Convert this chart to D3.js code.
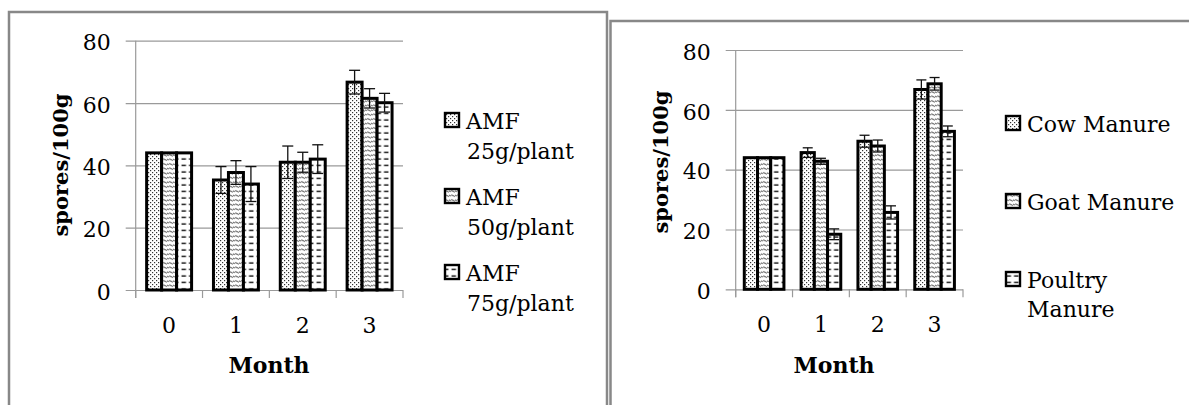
<!DOCTYPE html>
<html>
<head>
<meta charset="utf-8">
<script src="https://cdn.jsdelivr.net/npm/d3@7"></script>
<style>
  html, body { margin: 0; padding: 0; background: #fff; }
  svg { display: block; }
  text { font-family: "DejaVu Serif", "Liberation Serif", serif; fill: #000; }
</style>
</head>
<body>
<script>
// Chart data ------------------------------------------
const months = ['0', '1', '2', '3'];
const yTicks = [0, 20, 40, 60, 80];

// left chart: AMF doses
const amfLabels = [['AMF', '25g/plant'], ['AMF', '50g/plant'], ['AMF', '75g/plant']];
const amf25 = [44, 35.3, 41.0, 66.7];
const amf50 = [44, 37.7, 41.0, 61.5];
const amf75 = [44, 34.0, 42.0, 60.1];
const amf25Err = [0, 4.3, 5.2, 3.8];
const amf50Err = [0, 3.8, 3.2, 3.1];
const amf75Err = [0, 5.6, 4.6, 3.0];

// right chart: manures
const manureLabels = [['Cow Manure'], ['Goat Manure'], ['Poultry', 'Manure']];
const cow = [44, 45.7, 49.5, 66.8];
const goat = [44, 42.8, 47.9, 68.7];
const poultry = [44, 18.4, 25.7, 52.8];
const cowErr = [0, 1.6, 2.0, 3.2];
const goatErr = [0, 1.0, 2.0, 2.1];
const poultryErr = [0, 1.8, 2.2, 1.8];

const svg = d3.select('body').append('svg')
  .attr('width', 1189)
  .attr('height', 405);

// Fill patterns ---------------------------------------
const defs = svg.append('defs');

const dots = defs.append('pattern').attr('id', 'pat0')
  .attr('patternUnits', 'userSpaceOnUse').attr('width', 4).attr('height', 4);
dots.append('rect').attr('width', 4).attr('height', 4).attr('fill', '#fff');
dots.append('rect').attr('x', 0).attr('y', 0).attr('width', 1.2).attr('height', 1.2).attr('fill', '#333');
dots.append('rect').attr('x', 2).attr('y', 2).attr('width', 1.2).attr('height', 1.2).attr('fill', '#333');

const wave = defs.append('pattern').attr('id', 'pat1')
  .attr('patternUnits', 'userSpaceOnUse').attr('width', 6).attr('height', 4.5);
wave.append('rect').attr('width', 6).attr('height', 4.5).attr('fill', '#fff');
wave.append('path').attr('d', 'M0 3 Q1.5 0.5 3 2.2 T6 1.6')
  .attr('fill', 'none').attr('stroke', '#222').attr('stroke-width', 0.9);

const dash = defs.append('pattern').attr('id', 'pat2')
  .attr('patternUnits', 'userSpaceOnUse').attr('width', 7.5).attr('height', 6.5);
dash.append('rect').attr('width', 7.5).attr('height', 6.5).attr('fill', '#fff');
dash.append('line').attr('x1', 1.5).attr('x2', 6).attr('y1', 3).attr('y2', 3)
  .attr('stroke', '#111').attr('stroke-width', 1.4);

// Panel frames ----------------------------------------
const frame = svg.append('g').attr('fill', 'none').attr('stroke', '#888').attr('stroke-width', 2.5);
frame.append('path').attr('d', 'M9 405 V12 H607 V405');
frame.append('path').attr('d', 'M610.5 405 V21 H1189');

// One grouped bar chart with error bars ---------------
const drawChart = (cfg) => {
  const g = svg.append('g');

  const x = d3.scaleBand().domain(months).range([cfg.left, cfg.right]).padding(0);
  const xSub = d3.scaleBand().domain(d3.range(cfg.series.length))
    .range([0, x.bandwidth()]).paddingInner(0).paddingOuter(cfg.outer);
  const y = d3.scaleLinear().domain([0, 80]).range([cfg.bottom, cfg.top]);

  // gridlines + y labels
  const yAxis = g.append('g')
    .attr('transform', `translate(${cfg.left},0)`)
    .call(d3.axisLeft(y).tickValues(yTicks).tickSize(-(cfg.right - cfg.left)).tickPadding(25));
  yAxis.select('.domain').remove();
  yAxis.selectAll('line').attr('x1', -10).attr('stroke', '#9a9a9a').attr('stroke-width', 1.2);
  yAxis.selectAll('text').attr('font-size', 22).attr('dy', '0.42em')
    .style('font-family', '"DejaVu Serif", serif').attr('fill', '#000');

  // axis lines
  g.append('line').attr('x1', cfg.left).attr('x2', cfg.left)
    .attr('y1', y(80)).attr('y2', cfg.bottom + 8)
    .attr('stroke', '#9a9a9a').attr('stroke-width', 1.2);
  g.selectAll('.cat-tick').data(months.map(m => x(m)).concat([cfg.right]))
    .enter().append('line')
    .attr('x1', d => d).attr('x2', d => d)
    .attr('y1', cfg.bottom).attr('y2', cfg.bottom + 8)
    .attr('stroke', '#9a9a9a').attr('stroke-width', 1.2);

  // x labels
  const xAxis = g.append('g')
    .attr('transform', `translate(0,${cfg.bottom})`)
    .call(d3.axisBottom(x).tickSize(0));
  xAxis.select('.domain').remove();
  xAxis.selectAll('text').attr('font-size', 22).attr('y', 43).attr('dy', null)
    .style('font-family', '"DejaVu Serif", serif').attr('fill', '#000');

  // bars
  cfg.series.forEach((vals, si) => {
    const bars = g.append('g');
    bars.selectAll('rect').data(vals).enter().append('rect')
      .attr('x', (d, i) => x(months[i]) + xSub(si))
      .attr('y', d => y(d))
      .attr('width', xSub.bandwidth())
      .attr('height', d => y(0) - y(d))
      .attr('fill', `url(#pat${si})`)
      .attr('stroke', '#000')
      .attr('stroke-width', 3);
  });

  // error bars
  cfg.series.forEach((vals, si) => {
    const errs = cfg.errors[si];
    const eb = g.append('g').attr('stroke', '#111').attr('stroke-width', 1.3);
    vals.forEach((v, i) => {
      if (!errs[i]) return;
      const cx = x(months[i]) + xSub(si) + xSub.bandwidth() / 2;
      eb.append('line').attr('x1', cx).attr('x2', cx).attr('y1', y(v + errs[i])).attr('y2', y(v - errs[i]));
      eb.append('line').attr('x1', cx - cfg.cap / 2).attr('x2', cx + cfg.cap / 2)
        .attr('y1', y(v + errs[i])).attr('y2', y(v + errs[i]));
      eb.append('line').attr('x1', cx - cfg.cap / 2).attr('x2', cx + cfg.cap / 2)
        .attr('y1', y(v - errs[i])).attr('y2', y(v - errs[i]));
    });
  });

  // axis titles
  g.append('text')
    .attr('transform', `translate(${cfg.yTitleX},${cfg.yTitleY}) rotate(-90)`)
    .attr('text-anchor', 'middle').attr('font-size', 21).attr('font-weight', 'bold')
    .text('spores/100g');
  g.append('text')
    .attr('x', cfg.xTitleX).attr('y', 373)
    .attr('text-anchor', 'middle').attr('font-size', 22).attr('font-weight', 'bold')
    .text('Month');

  // legend
  cfg.labels.forEach((lines, li) => {
    const base = cfg.legendY + li * cfg.legendStep;
    g.append('rect')
      .attr('x', cfg.legendX).attr('y', base - 16)
      .attr('width', 14).attr('height', 14)
      .attr('fill', `url(#pat${li})`).attr('stroke', '#000').attr('stroke-width', 2.4);
    lines.forEach((line, k) => {
      g.append('text')
        .attr('x', cfg.legendX + 21 + (k > 0 ? cfg.indent : 0))
        .attr('y', base + k * cfg.lineStep)
        .attr('font-size', 22)
        .text(line);
    });
  });
};

drawChart({
  left: 135.7, right: 403, top: 40.7, bottom: 290, outer: 0.73, cap: 11,
  series: [amf25, amf50, amf75], errors: [amf25Err, amf50Err, amf75Err],
  labels: amfLabels, legendX: 445, legendY: 129, legendStep: 76, lineStep: 30, indent: 1,
  yTitleX: 68, yTitleY: 165, xTitleX: 269
});

drawChart({
  left: 735.7, right: 963, top: 50, bottom: 289.3, outer: 0.65, cap: 10,
  series: [cow, goat, poultry], errors: [cowErr, goatErr, poultryErr],
  labels: manureLabels, legendX: 1006, legendY: 132, legendStep: 78, lineStep: 29, indent: 0,
  yTitleX: 668, yTitleY: 162, xTitleX: 834
});
</script>
</body>
</html>
